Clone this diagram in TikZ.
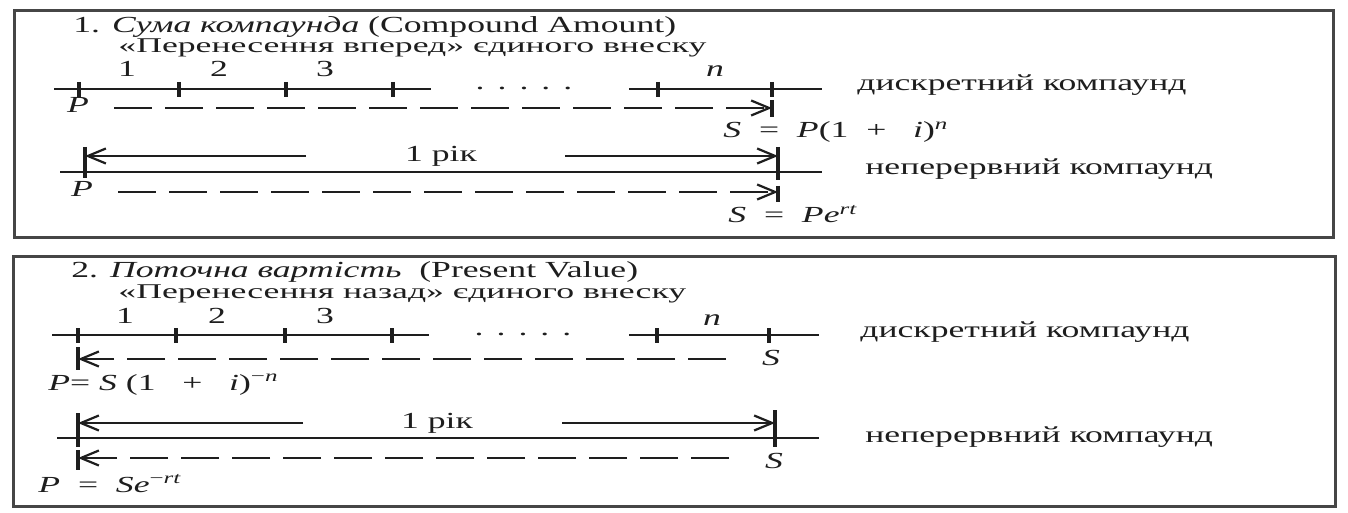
\documentclass[tikz,border=0pt]{standalone}
\usepackage{fontspec}
\setmainfont{Liberation Serif}[FakeStretch=1.55]
\newfontfamily\widerfont{Liberation Serif}[FakeStretch=1.7]
\usetikzlibrary{arrows.meta}
\definecolor{ink}{RGB}{30,30,30}
\definecolor{frame}{RGB}{70,70,70}
\begin{document}
\begin{tikzpicture}[x=0.5pt,y=-0.5pt,
  txt/.style={inner sep=0pt, text=ink, font=\fontsize{11.5}{13}\selectfont},
  subtxt/.style={inner sep=0pt, text=ink, font=\widerfont\fontsize{10.5}{12}\selectfont},
  axis/.style={draw=ink, line width=1.2pt},
  tickmark/.style={draw=ink, line width=1.6pt},
  dashline/.style={draw=ink, line width=1.2pt, dash pattern=on 19pt off 6.5pt},
  tipend/.style={-{Straight Barb[length=9pt,width=7.5pt,line width=1.1pt]}},
  box/.style={draw=frame, line width=1.5pt}
]
\useasboundingbox (0,0) rectangle (1348,513);
\fill[white] (0,0) rectangle (1348,513);

% ---------------- Box 1 ----------------
\draw[box] (14,11) rectangle (1333,238);
\node[txt, anchor=base west] (t1) at (73,33) {1. \textit{Сума компаунда} (Compound Amount)};
\node[subtxt, anchor=base west] (s1) at (118,53) {«Перенесення вперед» єдиного внеску};
\node[txt, anchor=base] (n11) at (127,77) {1};
\node[txt, anchor=base] (n12) at (219,77) {2};
\node[txt, anchor=base] (n13) at (325,77) {3};
\node[txt, anchor=base] (n1n) at (715,77) {\textit{n}};
\coordinate (a1s) at (54,89); \coordinate (a1e) at (431,89);
\draw[axis] (a1s) -- (a1e);
\foreach \x in {79,179,286,393} \draw[tickmark] (\x,82) -- (\x,97);
\node[txt] (dots1) at (524,88) {.\hspace{6.5pt}.\hspace{6.5pt}.\hspace{6.5pt}.\hspace{6.5pt}.};
\coordinate (b1s) at (629,89); \coordinate (b1e) at (822,89);
\draw[axis] (b1s) -- (b1e);
\foreach \x in {658,772} \draw[tickmark] (\x,82) -- (\x,97);
\node[txt, anchor=base west] (l1) at (857,91) {дискретний компаунд};
\node[txt, anchor=base] (p1) at (78,113) {\textit{P}};
\coordinate (d1s) at (114,108); \coordinate (d1e) at (772,108);
\draw[dashline, tipend] (d1s) -- (d1e);
\draw[tickmark] (772,100) -- (772,117);
\node[txt, anchor=base west] (f1) at (723,138) {\textit{S}\ \ =\ \ \textit{P}(1\ \ +\ \ \ \textit{i})\textsuperscript{\textit{n}}};

\coordinate (y1l) at (85,156); \coordinate (y1a) at (306,156);
\coordinate (y1b) at (565,156); \coordinate (y1r) at (778,156);
\draw[tickmark] (85,147) -- (85,178);
\draw[axis, tipend] (y1a) -- (y1l);
\draw[axis, tipend] (y1b) -- (y1r);
\node[txt, anchor=base] (yr1) at (441,162) {1 рік};
\draw[tickmark] (778,147) -- (778,180);
\coordinate (c1s) at (60,172); \coordinate (c1e) at (822,172);
\draw[axis] (c1s) -- (c1e);
\node[txt, anchor=base west] (l2) at (865,175) {неперервний компаунд};
\node[txt, anchor=base] (p2) at (82,197) {\textit{P}};
\coordinate (e1s) at (118,192); \coordinate (e1e) at (778,192);
\draw[dashline, tipend] (e1s) -- (e1e);
\draw[tickmark] (778,186) -- (778,202);
\node[txt, anchor=base west] (f2) at (728,223) {\textit{S}\ \ = \ \textit{Pe}\textsuperscript{\textit{rt}}};

% ---------------- Box 2 ----------------
\draw[box] (13,256) rectangle (1335,506);
\node[txt, anchor=base west] (t2) at (71,278) {2. \textit{Поточна вартість}\ \ (Present Value)};
\node[subtxt, anchor=base west] (s2) at (118,298) {«Перенесення назад» єдиного внеску};
\node[txt, anchor=base] (n21) at (125,323) {1};
\node[txt, anchor=base] (n22) at (217,323) {2};
\node[txt, anchor=base] (n23) at (325,323) {3};
\node[txt, anchor=base] (n2n) at (712,325) {\textit{n}};
\coordinate (a2s) at (52,335); \coordinate (a2e) at (429,335);
\draw[axis] (a2s) -- (a2e);
\foreach \x in {78,176,285,392} \draw[tickmark] (\x,328) -- (\x,343);
\node[txt] (dots2) at (523,334) {.\hspace{6.5pt}.\hspace{6.5pt}.\hspace{6.5pt}.\hspace{6.5pt}.};
\coordinate (b2s) at (629,335); \coordinate (b2e) at (819,335);
\draw[axis] (b2s) -- (b2e);
\foreach \x in {657,769} \draw[tickmark] (\x,328) -- (\x,343);
\node[txt, anchor=base west] (l3) at (860,337) {дискретний компаунд};
\draw[tickmark] (78,347) -- (78,370);
\coordinate (d2s) at (726,359); \coordinate (d2e) at (78,359);
\draw[dashline, tipend] (d2s) -- (d2e);
\node[txt, anchor=base] (s21) at (771,365) {\textit{S}};
\node[txt, anchor=base west] (f3) at (48,390) {\textit{P}= \textit{S}\ (1\ \ \ +\ \ \ \textit{i})\textsuperscript{−\textit{n}}};

\coordinate (y2l) at (78,423); \coordinate (y2a) at (303,423);
\coordinate (y2b) at (562,423); \coordinate (y2r) at (775,423);
\draw[tickmark] (78,413) -- (78,447);
\draw[axis, tipend] (y2a) -- (y2l);
\draw[axis, tipend] (y2b) -- (y2r);
\node[txt, anchor=base] (yr2) at (437,428) {1 рік};
\draw[tickmark] (775,410) -- (775,447);
\coordinate (c2s) at (57,438); \coordinate (c2e) at (819,438);
\draw[axis] (c2s) -- (c2e);
\node[txt, anchor=base west] (l4) at (865,442) {неперервний компаунд};
\draw[tickmark] (78,450) -- (78,470);
\coordinate (e2s) at (729,458); \coordinate (e2e) at (78,458);
\draw[dashline, tipend] (e2s) -- (e2e);
\node[txt, anchor=base] (s22) at (774,468) {\textit{S}};
\node[txt, anchor=base west] (f4) at (38,492) {\textit{P}\ \ =\ \ \textit{Se}\textsuperscript{−\textit{rt}}};
\end{tikzpicture}
\end{document}
